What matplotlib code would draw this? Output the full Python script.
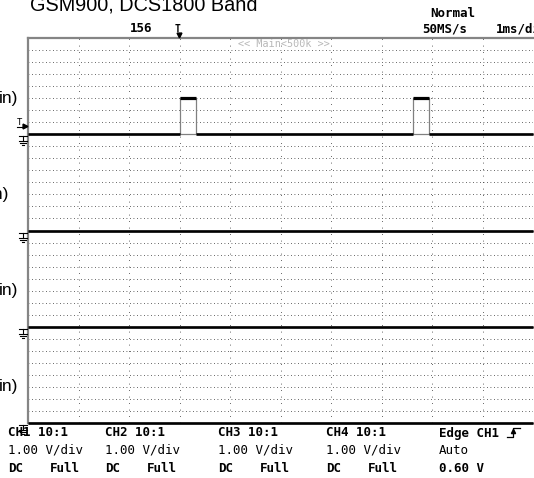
"""
Scope capture: GSM900 / DCS1800 band, 4 channel zone display
"""

import numpy as np
import matplotlib
matplotlib.use("Agg")
import matplotlib.pyplot as plt

W, H = 534, 478

# time axis (ms), 1 ms/div, trigger at t=0
t_min, t_max = -3, 7
t_grid = np.arange(-2, 7)

# zones: each channel gets 8 div, ground offset in div
zone_base = [24, 16, 8, 0]
n_div = 32

# channel traces (ms, V) - 1.00 V/div
ch1_t = [-3, 0, 0, 0.32, 0.32, 4.62, 4.62, 4.94, 4.94, 7]
ch1_v = [0, 0, 3, 3, 0, 0, 3, 3, 0, 0]
ch2_t = [-3, 7]
ch2_v = [0, 0]
ch3_t = [-3, 7]
ch3_v = [0, 0]
ch4_t = [-3, 7]
ch4_v = [0, 0]
volts_per_div = 1.0
trig_level = 0.60

side_labels = ["in)", "in)", "in)", "in)"]
ch_names = ["CH1", "CH2", "CH3", "CH4"]
probe = ["10:1", "10:1", "10:1", "10:1"]
vdiv = ["1.00 V/div"] * 4
coupling = ["DC"] * 4
bw_limit = ["Full"] * 4
trig_info = ["Edge CH1", "Auto", "0.60 V"]

MONO = "DejaVu Sans Mono"
SANS = "Liberation Sans"

fig = plt.figure(figsize=(W / 100, H / 100), dpi=100)
L, R, T, B = 28, 533, 38, 423
ax = fig.add_axes([L / W, 1 - B / H, (R - L) / W, (B - T) / H])
ax.set_xlim(t_min, t_max)
ax.set_ylim(0, n_div)
ax.set_xticks([])
ax.set_yticks([])
for s in ["right", "bottom"]:
    ax.spines[s].set_visible(False)
for s in ["left", "top"]:
    ax.spines[s].set_color("#858585")
    ax.spines[s].set_linewidth(1.6)

# dotted graticule
for y in range(1, n_div):
    ax.axhline(y, color="#333333", lw=0.6, ls=(0, (1, 3.2)), zorder=1)
for x in t_grid:
    ax.axvline(x, color="#333333", lw=0.6, ls=(0, (1, 6.8)), zorder=1)

traces = [(ch1_t, ch1_v), (ch2_t, ch2_v), (ch3_t, ch3_v), (ch4_t, ch4_v)]
for (t, v), base in zip(traces, zone_base):
    t = np.array(t, float)
    y = base + np.array(v, float) / volts_per_div
    ax.plot([t_min, t_max], [base, base], color="#808080", lw=0.9, clip_on=False, zorder=3)
    ax.plot(t, y, color="#808080", lw=0.9, clip_on=False, zorder=3)
    for i in range(len(t) - 1):
        if y[i] == y[i + 1]:
            lw = 2.3 if y[i] > base else 1.9
            ax.plot(t[i:i + 2], y[i:i + 2], color="black", lw=lw,
                    solid_capstyle="butt", clip_on=False, zorder=4)

# overlay in pixel coords for annotations
ov = fig.add_axes([0, 0, 1, 1], zorder=5)
ov.set_xlim(0, W)
ov.set_ylim(H, 0)
ov.axis("off")
ov.patch.set_alpha(0)


def ypx(div):
    return T + (n_div - div) * (B - T) / n_div


def xpx(ms):
    return L + (ms - t_min) / (t_max - t_min) * (R - L)


ov.text(30, 10, "GSM900, DCS1800 Band", family=SANS, fontsize=14.3, va="baseline")
ov.text(130, 28, "156", family=MONO, weight="bold", fontsize=9, va="center")
ov.text(430, 13, "Normal", family=MONO, weight="bold", fontsize=9, va="center")
ov.text(422, 29, "50MS/s", family=MONO, weight="bold", fontsize=9, va="center")
ov.text(496, 29, "1ms/div", family=MONO, weight="bold", fontsize=9, va="center")
ov.text(238, 43.5, "<< Main<500k >>", family=MONO, fontsize=7.3, color="#b8b8b8", va="center")

# trigger position marker
x0 = xpx(0)
ov.text(x0 - 1.5, 29, "T", family=MONO, weight="bold", fontsize=7, ha="center", va="center")
ov.plot(x0 - 0.5, 34.5, marker="v", ms=3.5, color="black")

# trigger level marker on CH1
ty = ypx(zone_base[0] + trig_level / volts_per_div)
ov.text(17, ty, "T", family=MONO, fontsize=6.5, va="bottom")
ov.plot(25, ty - 1.5, marker=">", ms=3.5, color="black")
ov.plot([17, 25], [ty, ty], color="black", lw=0.8)

label_right = [18, 9, 18, 18]
for i, base in enumerate(zone_base):
    gy = ypx(base)
    ov.text(label_right[i], gy - 36, side_labels[i], family=SANS, fontsize=12.5,
            ha="right", va="center")
    # ground symbol
    gx = 23
    ov.plot([19, 27], [gy + 2, gy + 2], color="black", lw=0.8)
    ov.plot([gx, gx], [gy + 2, gy + 7], color="black", lw=0.8)
    ov.plot([19, 27], [gy + 7, gy + 7], color="black", lw=0.8)
    ov.plot([20, 26], [gy + 9, gy + 9], color="black", lw=0.8)
    ov.plot([22, 24], [gy + 11, gy + 11], color="black", lw=0.8)

# channel settings footer
col_x = [8, 105, 218, 326]
rows_y = [433, 450, 468]
for i, cx in enumerate(col_x):
    ov.text(cx, rows_y[0], ch_names[i] + " " + probe[i], family=MONO, weight="bold",
            fontsize=9, va="center")
    ov.text(cx, rows_y[1], vdiv[i], family=MONO, fontsize=9, va="center")
    ov.text(cx, rows_y[2], coupling[i], family=MONO, weight="bold", fontsize=9, va="center")
    ov.text(cx + 42, rows_y[2], bw_limit[i], family=MONO, weight="bold", fontsize=9, va="center")
for txt, ry in zip(trig_info, rows_y):
    w = "normal" if ry == rows_y[1] else "bold"
    ov.text(439, ry, txt, family=MONO, weight=w, fontsize=9, va="center")

# rising edge symbol
ov.plot([507, 513, 513, 520], [437, 437, 428, 428], color="black", lw=0.9)
ov.plot(513, 431, marker="^", ms=3, color="black")

fig.savefig("out.png", dpi=100)
